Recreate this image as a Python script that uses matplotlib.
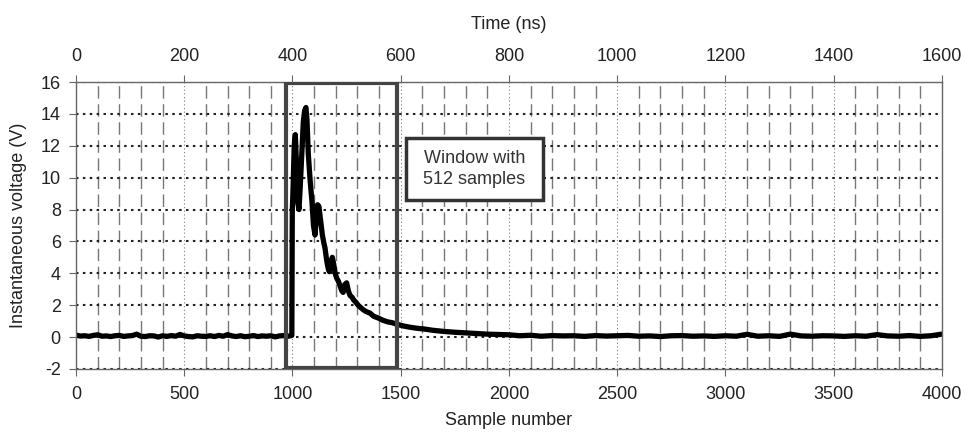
import numpy as np
import matplotlib.pyplot as plt
from matplotlib.patches import Rectangle

plt.rcParams['font.family'] = ['Liberation Sans', 'DejaVu Sans']
plt.rcParams['axes.unicode_minus'] = False

# signal (sample number, volts)
base_x = [0, 20, 40, 60, 80, 100, 120, 140, 160, 180, 200, 220, 240, 260, 280,
          300, 320, 340, 360, 380, 400, 420, 440, 460, 480, 500, 520, 540, 560,
          580, 600, 620, 640, 660, 680, 700, 720, 740, 760, 780, 800, 820, 840,
          860, 880, 900, 920, 940, 960, 980, 990]
base_y = [0.12, 0.06, 0.08, 0.04, 0.10, 0.14, 0.05, 0.07, 0.03, 0.08, 0.10,
          0.04, 0.07, 0.09, 0.18, 0.05, 0.03, 0.08, 0.07, 0.00, 0.08, 0.04,
          0.09, 0.05, 0.16, 0.07, 0.03, 0.01, 0.08, 0.05, 0.04, 0.08, 0.03,
          0.10, 0.05, 0.15, 0.07, 0.03, 0.08, 0.02, 0.05, 0.09, 0.03, 0.07,
          0.05, 0.08, 0.01, 0.07, 0.09, 0.05, 0.08]

pulse_x = [997, 999, 1003, 1008, 1013, 1018, 1024, 1030, 1036, 1043, 1050,
           1056, 1062, 1067, 1073, 1081, 1090, 1097, 1104, 1110, 1116, 1122,
           1130, 1138, 1145, 1150, 1158, 1165, 1170, 1176, 1184, 1190, 1197,
           1204, 1212, 1220, 1228, 1234, 1242, 1250, 1258, 1266, 1275, 1284,
           1292, 1303, 1315, 1328, 1340, 1358, 1375, 1395, 1418, 1440, 1460,
           1483, 1510, 1540, 1575, 1610, 1650, 1700, 1750, 1800, 1850, 1900,
           1950]
pulse_y = [0.1, 7.8, 9.5, 12.0, 12.7, 11.0, 8.5, 8.0, 9.5, 11.5, 13.5,
           14.2, 14.4, 13.6, 11.5, 9.9, 8.5, 7.0, 6.4, 7.5, 8.3, 8.2,
           7.3, 6.4, 5.9, 5.6, 4.8, 4.3, 4.1, 4.6, 5.0, 4.6, 4.0,
           3.7, 3.5, 3.2, 2.9, 2.8, 3.3, 3.4, 2.9, 2.6, 2.5, 2.3,
           2.2, 2.0, 1.85, 1.7, 1.6, 1.5, 1.3, 1.2, 1.05, 0.95, 0.9,
           0.8, 0.7, 0.62, 0.55, 0.5, 0.42, 0.35, 0.3, 0.26, 0.22, 0.18,
           0.16]

tail_x = [2000, 2050, 2100, 2150, 2200, 2250, 2300, 2350, 2400, 2450, 2500,
          2550, 2600, 2650, 2700, 2750, 2800, 2850, 2900, 2950, 3000, 3050,
          3100, 3150, 3200, 3250, 3300, 3350, 3400, 3450, 3500, 3550, 3600,
          3650, 3700, 3750, 3800, 3850, 3900, 3950, 3990]
tail_y = [0.14, 0.08, 0.11, 0.05, 0.09, 0.07, 0.08, 0.04, 0.09, 0.06, 0.08,
          0.10, 0.05, 0.07, 0.03, 0.08, 0.09, 0.05, 0.07, 0.04, 0.08, 0.05,
          0.17, 0.05, 0.08, 0.04, 0.18, 0.07, 0.05, 0.08, 0.07, 0.04, 0.08,
          0.05, 0.15, 0.07, 0.05, 0.09, 0.04, 0.08, 0.16]

samples = base_x + pulse_x + tail_x
volts = base_y + pulse_y + tail_y

win_start = 970
win_len = 512

fs = 13

fig = plt.figure(figsize=(9.65, 4.34), dpi=100)
ax = fig.add_axes([0.0788, 0.150, 0.8972, 0.661])

ax.plot(samples, volts, color='black', lw=3.8, zorder=2, solid_joinstyle='round')

ax.set_xlim(0, 4000)
ax.set_ylim(-2, 16)
ax.set_xticks(range(0, 4001, 500))
ax.set_xticks(range(0, 4001, 100), minor=True)
ax.set_yticks(range(-2, 17, 2))

ax.grid(which='major', axis='x', color='#888888', lw=0.8, linestyle=(0, (1.1, 2.2)))
ax.grid(which='minor', axis='x', color='#777777', lw=1.0, linestyle=(0, (9, 4)))
ax.grid(which='major', axis='y', color='#222222', lw=1.5, linestyle=(0, (1.2, 2.1)))
ax.set_axisbelow(True)

for s in ax.spines.values():
    s.set_color('#666666')
    s.set_linewidth(1.0)
ax.tick_params(which='major', direction='out', length=5, color='#666666',
               labelsize=fs, labelcolor='#222222')
ax.tick_params(axis='x', which='major', pad=7)
ax.tick_params(axis='y', which='major', pad=6)
ax.tick_params(which='minor', length=0)

ax.set_xlabel('Sample number', fontsize=fs, color='#222222', labelpad=7)
ax.set_ylabel('Instantaneous voltage (V)', fontsize=fs, color='#222222', labelpad=10)

# 512-sample window
ax.add_patch(Rectangle((win_start, -1.93), win_len, 17.88, fill=False,
                       edgecolor='#444444', lw=3, zorder=3))
ax.add_patch(Rectangle((1524, 8.6), 633, 3.9, facecolor='white',
                       edgecolor='#333333', lw=2.5, zorder=4))
ax.text(1840, 10.55, 'Window with\n512 samples', ha='center', va='center',
        fontsize=fs, color='#333333', zorder=5, linespacing=1.35)

# time axis on top
ax2 = ax.twiny()
ax2.set_xlim(0, 1600)
ax2.set_xticks(range(0, 1601, 200))
ax2.tick_params(direction='out', length=5, color='#666666', labelsize=fs,
                labelcolor='#222222', pad=7)
for s in ax2.spines.values():
    s.set_visible(False)
ax2.set_xlabel('Time (ns)', fontsize=fs, color='#222222', labelpad=14)

fig.savefig('out.png', dpi=100)
